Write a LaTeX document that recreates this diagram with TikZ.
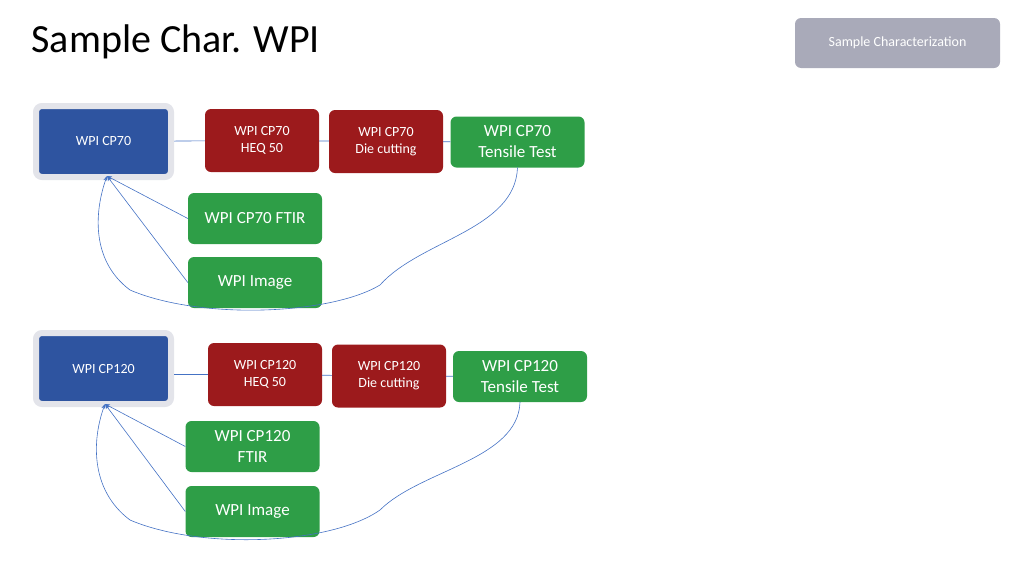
\documentclass[tikz,border=0pt]{standalone}
\usepackage{fontspec}
\setmainfont{Carlito}
\usetikzlibrary{arrows.meta}
\definecolor{bblue}{HTML}{2E54A0}
\definecolor{bred}{HTML}{9C1A1C}
\definecolor{bgreen}{HTML}{2E9E47}
\definecolor{frame}{HTML}{E3E4EA}
\definecolor{btn}{HTML}{A9AAB9}
\definecolor{link}{HTML}{4472C4}
\begin{document}
\begin{tikzpicture}[x=1pt,y=-1pt,
  box/.style={rounded corners=6pt,text=white,align=center,font=\fontsize{15}{18}\selectfont},
  main/.style={box,fill=bblue,draw=frame,line width=6pt,minimum width=135pt,minimum height=71pt,font=\fontsize{14}{17}\selectfont},
  redbox/.style={box,fill=bred,minimum width=114pt,minimum height=63pt,font=\fontsize{14}{17}\selectfont},
  grbox/.style={box,fill=bgreen,minimum width=134pt,minimum height=51pt},
  conn/.style={link,line width=0.6pt},
  arr/.style={conn,-{Stealth[length=5pt,width=4pt]}}]
\useasboundingbox (0,0) rectangle (1024,576);
\node[anchor=west,font=\fontsize{40}{44}\selectfont] (title) at (28,42) {Sample Char. WPI};
\node[fill=btn,rounded corners=6pt,text=white,minimum width=205pt,minimum height=50pt,font=\fontsize{14}{17}\selectfont] (btn) at (897.5,43) {Sample Characterization};
% top block
\node[main] (a1) at (103.5,141.5) {WPI CP70};
\node[redbox] (a2) at (262,140.5) {WPI CP70\\HEQ 50};
\node[redbox] (a3) at (386,141.5) {WPI CP70\\Die cutting};
\node[grbox,font=\fontsize{17}{21}\selectfont] (a4) at (517.5,142) {WPI CP70\\Tensile Test};
\node[grbox,font=\fontsize{17}{21}\selectfont] (a5) at (255,218.5) {WPI CP70 FTIR};
\node[grbox,font=\fontsize{17}{21}\selectfont] (a6) at (255,282.5) {WPI Image};
\draw[conn] (a1) -- (a2); \draw[conn] (a2) -- (a3); \draw[conn] (a3) -- (a4);
\coordinate (t1) at (107,176);
\draw[arr] (a5.west) -- (t1);
\draw[arr] (a6.west) -- (t1);
\draw[arr] (a4.south) .. controls (515,230) and (420,240) .. (380,285) .. controls (330,315) and (200,320) .. (130,290) .. controls (90,260) and (95,210) .. (t1);
% bottom block
\node[main] (b1) at (103.5,368.5) {WPI CP120};
\node[redbox] (b2) at (265,374.5) {WPI CP120\\HEQ 50};
\node[redbox] (b3) at (389,376) {WPI CP120\\Die cutting};
\node[grbox,font=\fontsize{17}{21}\selectfont] (b4) at (520,376.5) {WPI CP120\\Tensile Test};
\node[grbox,font=\fontsize{17}{21}\selectfont] (b5) at (252.5,446.5) {WPI CP120\\FTIR};
\node[grbox,font=\fontsize{17}{21}\selectfont] (b6) at (252.5,511.5) {WPI Image};
\draw[conn] (b1.east|-b2.west) -- (b2.west); \draw[conn] (b2) -- (b3); \draw[conn] (b3) -- (b4);
\coordinate (t2) at (105,404);
\draw[arr] (b5.west) -- (t2);
\draw[arr] (b6.west) -- (t2);
\draw[arr] (b4.south) .. controls (518,460) and (420,470) .. (380,510) .. controls (330,545) and (200,550) .. (130,520) .. controls (90,490) and (92,440) .. (t2);
\end{tikzpicture}
\end{document}
